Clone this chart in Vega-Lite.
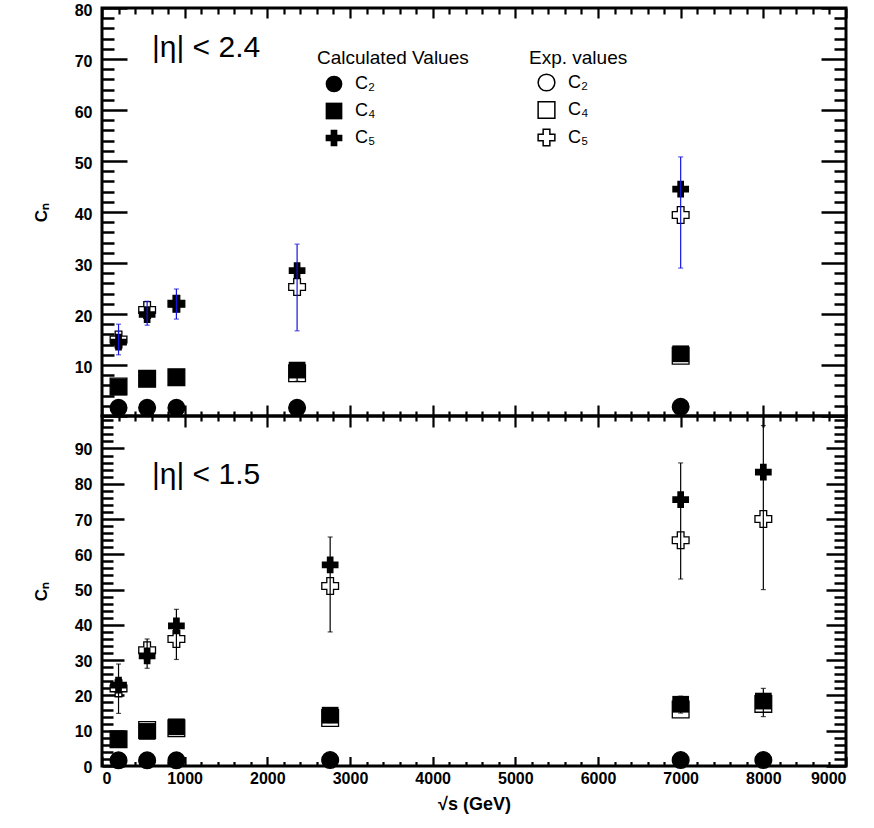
{
  "$schema": "https://vega.github.io/schema/vega-lite/v6.json",
  "background": "white",
  "padding": {"left": 30, "top": 0, "right": 0, "bottom": 0},
  "spacing": 0,
  "bounds": "flush",
  "config": {
    "view": {"stroke": "black", "strokeWidth": 3},
    "font": "Liberation Sans",
    "axis": {"grid": false, "domain": false, "tickColor": "black", "labelColor": "black", "titleColor": "black", "labelOverlap": false, "labelBound": false}
  },
  "resolve": {"scale": {"shape": "independent", "color": "independent"}, "legend": {"shape": "independent"}},
  "vconcat": [
    {
      "width": 744,
      "height": 408,
      "data": {"values": [
        {"x": 200, "coef": "C₂", "calc": 1.6, "exp": 1.6, "lo": null, "hi": null},
        {"x": 200, "coef": "C₄", "calc": 5.7, "exp": 5.8, "lo": null, "hi": null},
        {"x": 200, "coef": "C₅", "calc": 14.5, "exp": 15.0, "lo": 12.0, "hi": 18.0},
        {"x": 546, "coef": "C₂", "calc": 1.6, "exp": 1.6, "lo": null, "hi": null},
        {"x": 546, "coef": "C₄", "calc": 7.3, "exp": 7.3, "lo": null, "hi": null},
        {"x": 546, "coef": "C₅", "calc": 19.9, "exp": 20.8, "lo": 17.8, "hi": 22.5},
        {"x": 900, "coef": "C₂", "calc": 1.6, "exp": 1.6, "lo": null, "hi": null},
        {"x": 900, "coef": "C₄", "calc": 7.6, "exp": 7.6, "lo": null, "hi": null},
        {"x": 900, "coef": "C₅", "calc": 22.0, "exp": 22.0, "lo": 19.0, "hi": 24.9},
        {"x": 2360, "coef": "C₂", "calc": 1.6, "exp": 1.6, "lo": null, "hi": null},
        {"x": 2360, "coef": "C₄", "calc": 9.0, "exp": 8.4, "lo": 6.8, "hi": 10.2},
        {"x": 2360, "coef": "C₅", "calc": 28.5, "exp": 25.3, "lo": 16.7, "hi": 33.7},
        {"x": 7000, "coef": "C₂", "calc": 1.8, "exp": 1.8, "lo": null, "hi": null},
        {"x": 7000, "coef": "C₄", "calc": 12.2, "exp": 11.8, "lo": 11.0, "hi": 13.4},
        {"x": 7000, "coef": "C₅", "calc": 44.5, "exp": 39.4, "lo": 29.0, "hi": 50.8}
      ]},
      "resolve": {"scale": {"shape": "independent"}, "axis": {"x": "independent", "y": "independent"}},
      "layer": [
        {
          "mark": {"type": "point", "filled": false, "fill": "white", "stroke": "black", "strokeWidth": 1.3, "size": 280, "opacity": 1, "fillOpacity": 1},
          "encoding": {
            "x": {"field": "x", "type": "quantitative", "scale": {"domain": [0, 9000], "nice": false, "zero": false},
              "axis": {"orient": "top", "values": [0,200,400,600,800,1000,1200,1400,1600,1800,2000,2200,2400,2600,2800,3000,3200,3400,3600,3800,4000,4200,4400,4600,4800,5000,5200,5400,5600,5800,6000,6200,6400,6600,6800,7000,7200,7400,7600,7800,8000,8200,8400,8600,8800,9000],
                "tickSize": {"condition": {"test": "datum.value % 1000 === 0", "value": -10}, "value": -6}, "tickWidth": 2.2, "labels": false, "title": null}},
            "y": {"field": "exp", "type": "quantitative", "scale": {"domain": [0, 80], "nice": false, "zero": false},
              "axis": {"orient": "right", "values": [0,2,4,6,8,10,12,14,16,18,20,22,24,26,28,30,32,34,36,38,40,42,44,46,48,50,52,54,56,58,60,62,64,66,68,70,72,74,76,78,80],
                "tickSize": {"condition": {"test": "datum.value % 10 === 0", "value": -25}, "value": -12}, "tickWidth": 2.5, "labels": false, "title": null}},
            "shape": {"field": "coef", "type": "nominal", "scale": {"domain": ["C₂", "C₄", "C₅"], "range": ["circle", "square", "cross"]},
              "legend": {"orient": "none", "legendX": 427, "legendY": 41, "title": "Exp. values", "titleFont": "Liberation Sans", "titleFontSize": 19, "titleFontWeight": "normal", "titleColor": "black", "titlePadding": 5,
                "labelFont": "Liberation Sans", "labelFontSize": 18, "labelColor": "black", "labelOffset": 12, "symbolOffset": 8, "symbolSize": 280, "rowPadding": 4.5, "padding": 0,
                "encode": {"symbols": {"update": {"fill": {"value": "white"}, "fillOpacity": {"value": 1}, "stroke": {"value": "black"}, "strokeWidth": {"value": 1.2}, "opacity": {"value": 1}}}}}}
          }
        },
        {
          "mark": {"type": "point", "filled": true, "color": "black", "size": 280, "opacity": 1},
          "encoding": {
            "x": {"field": "x", "type": "quantitative", "scale": {"domain": [0, 9000], "nice": false, "zero": false}, "axis": null},
            "y": {"field": "calc", "type": "quantitative", "scale": {"domain": [0, 80], "nice": false, "zero": false}, "axis": null},
            "shape": {"field": "coef", "type": "nominal", "scale": {"domain": ["C₂", "C₄", "C₅"], "range": ["circle", "square", "cross"]},
              "legend": {"orient": "none", "legendX": 215, "legendY": 41, "title": "Calculated Values", "titleFont": "Liberation Sans", "titleFontSize": 19, "titleFontWeight": "normal", "titleColor": "black", "titlePadding": 7,
                "labelFont": "Liberation Sans", "labelFontSize": 18, "labelColor": "black", "labelOffset": 12, "symbolOffset": 8, "symbolSize": 280, "symbolFillColor": "black", "symbolStrokeColor": "black", "symbolStrokeWidth": 0, "rowPadding": 9, "padding": 0}}
          }
        },
        {
          "transform": [{"filter": "isValid(datum.lo)"}],
          "mark": {"type": "rule", "strokeWidth": 1.2},
          "encoding": {
            "x": {"field": "x", "type": "quantitative", "scale": {"domain": [0, 9000], "nice": false, "zero": false},
              "axis": {"orient": "bottom", "values": [0,200,400,600,800,1000,1200,1400,1600,1800,2000,2200,2400,2600,2800,3000,3200,3400,3600,3800,4000,4200,4400,4600,4800,5000,5200,5400,5600,5800,6000,6200,6400,6600,6800,7000,7200,7400,7600,7800,8000,8200,8400,8600,8800,9000],
                "tickSize": {"condition": {"test": "datum.value % 1000 === 0", "value": -11}, "value": -5}, "tickWidth": 2.2, "labels": false, "title": null}},
            "y": {"field": "lo", "type": "quantitative", "scale": {"domain": [0, 80], "nice": false, "zero": false},
              "axis": {"orient": "left", "values": [0,2,4,6,8,10,12,14,16,18,20,22,24,26,28,30,32,34,36,38,40,42,44,46,48,50,52,54,56,58,60,62,64,66,68,70,72,74,76,78,80],
                "tickSize": {"condition": {"test": "datum.value % 10 === 0", "value": -25}, "value": -12}, "tickWidth": 2.5,
                "labelExpr": "datum.value % 10 === 0 && datum.value > 0 ? datum.label : ''", "labelFont": "Liberation Sans", "labelFontWeight": "bold", "labelFontSize": 16, "labelPadding": 35, "labelOffset": 2,
                "title": "Cₙ", "titleFont": "Liberation Sans", "titleFontWeight": "bold", "titleFontSize": 17, "titlePadding": 24}},
            "y2": {"field": "hi"},
            "color": {"field": "coef", "type": "nominal", "scale": {"domain": ["C₄", "C₅"], "range": ["black", "#1414e0"]}, "legend": null}
          }
        },
        {
          "transform": [{"filter": "isValid(datum.lo)"}],
          "mark": {"type": "tick", "orient": "horizontal", "size": 5, "thickness": 1.2},
          "encoding": {
            "x": {"field": "x", "type": "quantitative", "scale": {"domain": [0, 9000], "nice": false, "zero": false}, "axis": null},
            "y": {"field": "lo", "type": "quantitative", "scale": {"domain": [0, 80], "nice": false, "zero": false}, "axis": null},
            "color": {"field": "coef", "type": "nominal", "scale": {"domain": ["C₄", "C₅"], "range": ["black", "#1414e0"]}, "legend": null}
          }
        },
        {
          "transform": [{"filter": "isValid(datum.hi)"}],
          "mark": {"type": "tick", "orient": "horizontal", "size": 5, "thickness": 1.2},
          "encoding": {
            "x": {"field": "x", "type": "quantitative", "scale": {"domain": [0, 9000], "nice": false, "zero": false}, "axis": null},
            "y": {"field": "hi", "type": "quantitative", "scale": {"domain": [0, 80], "nice": false, "zero": false}, "axis": null},
            "color": {"field": "coef", "type": "nominal", "scale": {"domain": ["C₄", "C₅"], "range": ["black", "#1414e0"]}, "legend": null}
          }
        },
        {
          "data": {"values": [{"label": "|η| < 2.4"}]},
          "mark": {"type": "text", "align": "left", "baseline": "middle", "font": "Liberation Sans", "fontSize": 30, "color": "black"},
          "encoding": {
            "x": {"datum": 605, "type": "quantitative", "scale": {"domain": [0, 9000], "nice": false, "zero": false}, "axis": null},
            "y": {"datum": 72.2, "type": "quantitative", "scale": {"domain": [0, 80], "nice": false, "zero": false}, "axis": null},
            "text": {"field": "label", "type": "nominal"}
          }
        }
      ]
    },
    {
      "width": 744,
      "height": 350,
      "data": {"values": [
        {"x": 200, "coef": "C₂", "calc": 1.6, "exp": 1.6, "lo": null, "hi": null},
        {"x": 200, "coef": "C₄", "calc": 7.6, "exp": 7.6, "lo": null, "hi": null},
        {"x": 200, "coef": "C₅", "calc": 22.9, "exp": 22.0, "lo": 14.9, "hi": 28.9},
        {"x": 546, "coef": "C₂", "calc": 1.6, "exp": 1.6, "lo": null, "hi": null},
        {"x": 546, "coef": "C₄", "calc": 9.8, "exp": 10.2, "lo": null, "hi": null},
        {"x": 546, "coef": "C₅", "calc": 31.2, "exp": 32.8, "lo": 27.7, "hi": 36.0},
        {"x": 900, "coef": "C₂", "calc": 1.6, "exp": 1.6, "lo": null, "hi": null},
        {"x": 900, "coef": "C₄", "calc": 11.1, "exp": 10.7, "lo": null, "hi": null},
        {"x": 900, "coef": "C₅", "calc": 39.7, "exp": 36.0, "lo": 30.2, "hi": 44.4},
        {"x": 2760, "coef": "C₂", "calc": 1.7, "exp": 1.7, "lo": null, "hi": null},
        {"x": 2760, "coef": "C₄", "calc": 14.4, "exp": 13.6, "lo": 12.3, "hi": 15.2},
        {"x": 2760, "coef": "C₅", "calc": 57.0, "exp": 51.0, "lo": 38.0, "hi": 64.9},
        {"x": 7000, "coef": "C₂", "calc": 1.7, "exp": 1.7, "lo": null, "hi": null},
        {"x": 7000, "coef": "C₄", "calc": 17.5, "exp": 16.0, "lo": 15.0, "hi": 19.8},
        {"x": 7000, "coef": "C₅", "calc": 75.5, "exp": 64.0, "lo": 53.0, "hi": 85.9},
        {"x": 8000, "coef": "C₂", "calc": 1.7, "exp": 1.7, "lo": null, "hi": null},
        {"x": 8000, "coef": "C₄", "calc": 18.4, "exp": 17.6, "lo": 14.0, "hi": 22.0},
        {"x": 8000, "coef": "C₅", "calc": 83.3, "exp": 70.0, "lo": 50.0, "hi": 96.5}
      ]},
      "resolve": {"axis": {"x": "independent", "y": "independent"}},
      "layer": [
        {
          "mark": {"type": "point", "filled": false, "fill": "white", "stroke": "black", "strokeWidth": 1.3, "size": 280, "opacity": 1, "fillOpacity": 1},
          "encoding": {
            "x": {"field": "x", "type": "quantitative", "scale": {"domain": [0, 9000], "nice": false, "zero": false},
              "axis": {"orient": "top", "values": [0,200,400,600,800,1000,1200,1400,1600,1800,2000,2200,2400,2600,2800,3000,3200,3400,3600,3800,4000,4200,4400,4600,4800,5000,5200,5400,5600,5800,6000,6200,6400,6600,6800,7000,7200,7400,7600,7800,8000,8200,8400,8600,8800,9000],
                "tickSize": {"condition": {"test": "datum.value % 1000 === 0", "value": -11}, "value": -5}, "tickWidth": 2.2, "labels": false, "title": null}},
            "y": {"field": "exp", "type": "quantitative", "scale": {"domain": [0, 99.2], "nice": false, "zero": false},
              "axis": {"orient": "right", "values": [0,2,4,6,8,10,12,14,16,18,20,22,24,26,28,30,32,34,36,38,40,42,44,46,48,50,52,54,56,58,60,62,64,66,68,70,72,74,76,78,80,82,84,86,88,90,92,94,96,98],
                "tickSize": {"condition": {"test": "datum.value % 10 === 0", "value": -20}, "value": -12}, "tickWidth": 2.5, "labels": false, "title": null}},
            "shape": {"field": "coef", "type": "nominal", "scale": {"domain": ["C₂", "C₄", "C₅"], "range": ["circle", "square", "cross"]}, "legend": null}
          }
        },
        {
          "mark": {"type": "point", "filled": true, "color": "black", "size": 280, "opacity": 1},
          "encoding": {
            "x": {"field": "x", "type": "quantitative", "scale": {"domain": [0, 9000], "nice": false, "zero": false}, "axis": null},
            "y": {"field": "calc", "type": "quantitative", "scale": {"domain": [0, 99.2], "nice": false, "zero": false}, "axis": null},
            "shape": {"field": "coef", "type": "nominal", "scale": {"domain": ["C₂", "C₄", "C₅"], "range": ["circle", "square", "cross"]}, "legend": null}
          }
        },
        {
          "transform": [{"filter": "isValid(datum.lo)"}],
          "mark": {"type": "rule", "strokeWidth": 1.2, "color": "black"},
          "encoding": {
            "x": {"field": "x", "type": "quantitative", "scale": {"domain": [0, 9000], "nice": false, "zero": false},
              "axis": {"orient": "bottom", "values": [0,200,400,600,800,1000,1200,1400,1600,1800,2000,2200,2400,2600,2800,3000,3200,3400,3600,3800,4000,4200,4400,4600,4800,5000,5200,5400,5600,5800,6000,6200,6400,6600,6800,7000,7200,7400,7600,7800,8000,8200,8400,8600,8800,9000],
                "tickSize": {"condition": {"test": "datum.value % 1000 === 0", "value": -9.5}, "value": -4.5}, "tickWidth": 2.2, "format": "d",
                "labelExpr": "datum.value % 1000 === 0 ? datum.label : ''", "labelFont": "Liberation Sans", "labelFontWeight": "bold", "labelFontSize": 16, "labelPadding": 14,
                "title": "√s (GeV)", "titleFont": "Liberation Sans", "titleFontWeight": "bold", "titleFontSize": 18, "titlePadding": 4}},
            "y": {"field": "lo", "type": "quantitative", "scale": {"domain": [0, 99.2], "nice": false, "zero": false},
              "axis": {"orient": "left", "values": [0,2,4,6,8,10,12,14,16,18,20,22,24,26,28,30,32,34,36,38,40,42,44,46,48,50,52,54,56,58,60,62,64,66,68,70,72,74,76,78,80,82,84,86,88,90,92,94,96,98],
                "tickSize": {"condition": {"test": "datum.value % 10 === 0", "value": -22}, "value": -11}, "tickWidth": 2.5,
                "labelExpr": "datum.value % 10 === 0 ? datum.label : ''", "labelFont": "Liberation Sans", "labelFontWeight": "bold", "labelFontSize": 16, "labelPadding": 32, "labelOffset": 1,
                "title": "Cₙ", "titleFont": "Liberation Sans", "titleFontWeight": "bold", "titleFontSize": 17, "titlePadding": 24}},
            "y2": {"field": "hi"}
          }
        },
        {
          "transform": [{"filter": "isValid(datum.lo)"}],
          "mark": {"type": "tick", "orient": "horizontal", "size": 5, "thickness": 1.2, "color": "black"},
          "encoding": {
            "x": {"field": "x", "type": "quantitative", "scale": {"domain": [0, 9000], "nice": false, "zero": false}, "axis": null},
            "y": {"field": "lo", "type": "quantitative", "scale": {"domain": [0, 99.2], "nice": false, "zero": false}, "axis": null}
          }
        },
        {
          "transform": [{"filter": "isValid(datum.hi)"}],
          "mark": {"type": "tick", "orient": "horizontal", "size": 5, "thickness": 1.2, "color": "black"},
          "encoding": {
            "x": {"field": "x", "type": "quantitative", "scale": {"domain": [0, 9000], "nice": false, "zero": false}, "axis": null},
            "y": {"field": "hi", "type": "quantitative", "scale": {"domain": [0, 99.2], "nice": false, "zero": false}, "axis": null}
          }
        },
        {
          "data": {"values": [{"label": "|η| < 1.5"}]},
          "mark": {"type": "text", "align": "left", "baseline": "middle", "font": "Liberation Sans", "fontSize": 30, "color": "black"},
          "encoding": {
            "x": {"datum": 605, "type": "quantitative", "scale": {"domain": [0, 9000], "nice": false, "zero": false}, "axis": null},
            "y": {"datum": 82.4, "type": "quantitative", "scale": {"domain": [0, 99.2], "nice": false, "zero": false}, "axis": null},
            "text": {"field": "label", "type": "nominal"}
          }
        }
      ]
    }
  ]
}
